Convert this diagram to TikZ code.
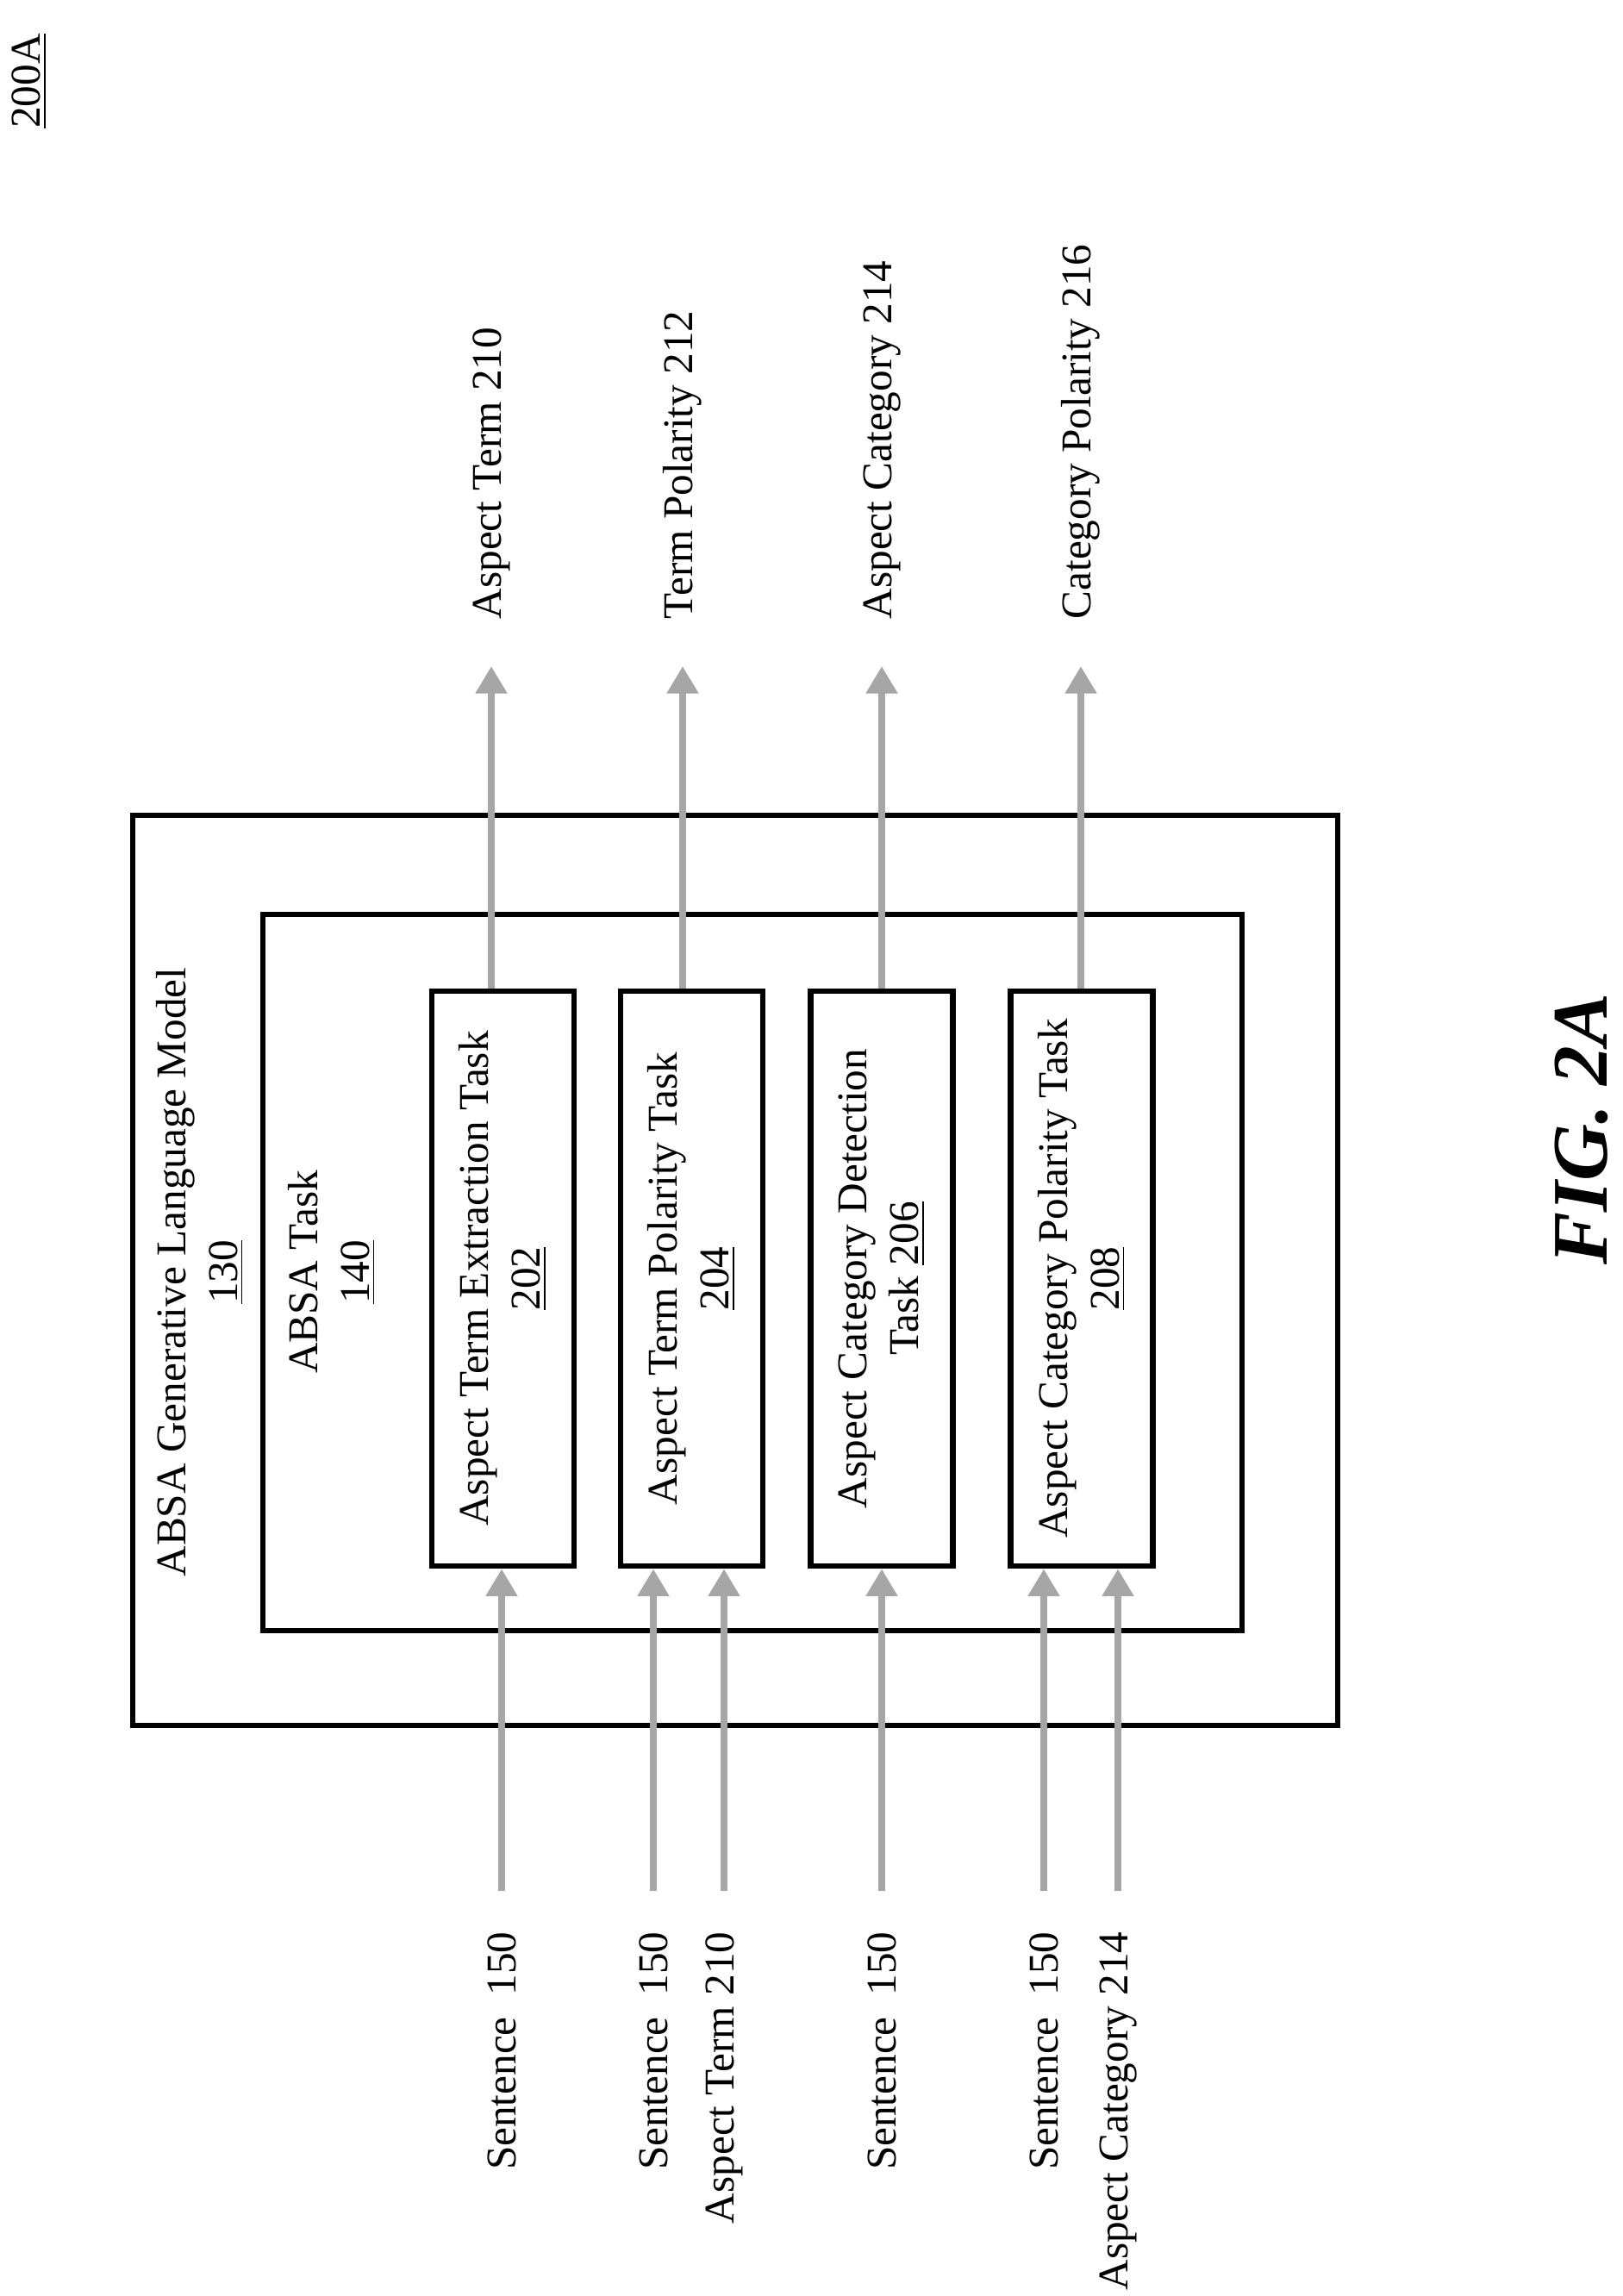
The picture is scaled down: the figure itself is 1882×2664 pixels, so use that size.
\documentclass[tikz,border=0pt]{standalone}
\usepackage{fontspec}
\setmainfont{Liberation Serif}
\usetikzlibrary{arrows.meta}
\tikzset{
  box/.style = {draw, line width=1.8pt},
  task/.style = {box, minimum width=6.67cm, minimum height=1.65cm, rotate=90},
  flow/.style = {draw=gray!70, line width=2.2pt, -{Triangle[width=10pt,length=9pt,fill=gray!70]}},
  lbl/.style = {rotate=90, font=\fontsize{14}{17}\selectfont, inner sep=0pt},
  txt/.style = {rotate=90, font=\fontsize{14}{17}\selectfont, align=center, inner sep=0pt}
}
\begin{document}
\begin{tikzpicture}[x=0.01cm, y=-0.01cm]
\useasboundingbox (0,0) rectangle (1882,2664);
% Figure number
\node[lbl, anchor=center] (fignum) at (34,94) {\underline{200A}};
% Model and task frames
\draw[box] (154,946) rectangle (1552,2002);
\draw[box] (305,1061) rectangle (1441,1892);
\node[txt] (model) at (232,1476) {ABSA Generative Language Model\\\underline{130}};
\node[txt] (absa) at (385,1476) {ABSA Task\\\underline{140}};
% Sub tasks
\node[task] (t202) at (583.5,1483.5) {};
\node[task] (t204) at (802.5,1483.5) {};
\node[task] (t206) at (1023,1483.5) {};
\node[task] (t208) at (1255,1483.5) {};
\node[txt] at (t202) {Aspect Term Extraction Task\\\underline{202}};
\node[txt] at (t204) {Aspect Term Polarity Task\\\underline{204}};
\node[txt] at (t206) {Aspect Category Detection\\Task \underline{206}};
\node[txt] at (t208) {Aspect Category Polarity Task\\\underline{208}};
% Outputs
\node[lbl, anchor=west] (o210) at (570,719) {Aspect Term 210};
\node[lbl, anchor=west] (o212) at (792,719) {Term Polarity 212};
\node[lbl, anchor=west] (o214) at (1023,719) {Aspect Category 214};
\node[lbl, anchor=west] (o216) at (1254,719) {Category Polarity 216};
\coordinate (e210) at (570,773);
\coordinate (e212) at (792,773);
\coordinate (e214) at (1023,773);
\coordinate (e216) at (1254,773);
\draw[flow] (t202.east -| e210) -- (e210);
\draw[flow] (t204.east -| e212) -- (e212);
\draw[flow] (t206.east -| e214) -- (e214);
\draw[flow] (t208.east -| e216) -- (e216);
% Inputs
\node[lbl, anchor=east] (i1) at (582,2241) {Sentence~~150};
\node[lbl, anchor=east] (i2) at (758,2241) {Sentence~~150};
\node[lbl, anchor=east] (i3) at (840,2241) {Aspect Term 210};
\node[lbl, anchor=east] (i4) at (1023,2241) {Sentence~~150};
\node[lbl, anchor=east] (i5) at (1211,2241) {Sentence~~150};
\node[lbl, anchor=east] (i6) at (1297,2241) {Aspect Category 214};
\coordinate (s1) at (582,2194);
\coordinate (s2) at (758,2194);
\coordinate (s3) at (840,2194);
\coordinate (s4) at (1023,2194);
\coordinate (s5) at (1211,2194);
\coordinate (s6) at (1297,2194);
\draw[flow] (s1) -- (s1 |- t202.west);
\draw[flow] (s2) -- (s2 |- t204.west);
\draw[flow] (s3) -- (s3 |- t204.west);
\draw[flow] (s4) -- (s4 |- t206.west);
\draw[flow] (s5) -- (s5 |- t208.west);
\draw[flow] (s6) -- (s6 |- t208.west);
% Caption
\node[lbl, font=\fontsize{26}{30}\selectfont\bfseries\itshape] (fig) at (1835,1310) {FIG. 2A};
\end{tikzpicture}
\end{document}
